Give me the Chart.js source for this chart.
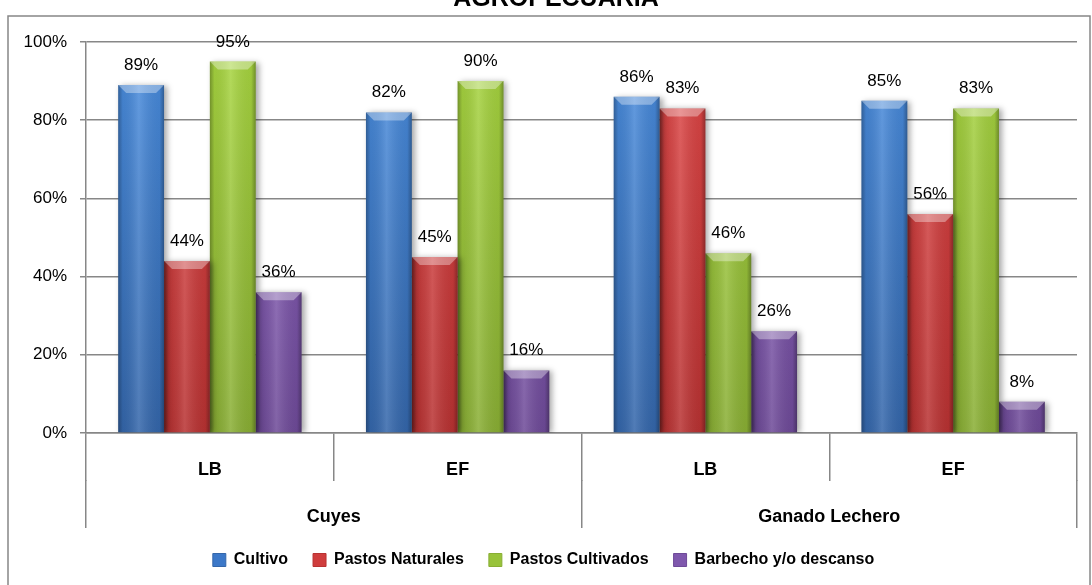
<!DOCTYPE html>
<html>
<head>
<meta charset="utf-8">
<script src="https://cdn.jsdelivr.net/npm/chart.js@4.4.1/dist/chart.umd.min.js"></script>
<style>
  html, body { margin: 0; padding: 0; background: #fff; }
  #grafico { display: block; }
</style>
</head>
<body>
<canvas id="grafico" width="1092" height="585"></canvas>
<script>
// datos
const titulo = "AGROPECUARIA";
const grupos = ["Cuyes", "Ganado Lechero"];
const etapas = ["LB", "EF", "LB", "EF"];
const series = ["Cultivo", "Pastos Naturales", "Pastos Cultivados", "Barbecho y/o descanso"];
const cultivo = [89, 82, 86, 85];
const pastosNaturales = [44, 45, 83, 56];
const pastosCultivados = [95, 90, 46, 83];
const barbecho = [36, 16, 26, 8];
const yMax = 100, yPaso = 20;

// colores: arriba, medio, abajo
const colores = [
  ["#4a8ee0", "#3c78c8", "#3466aa"],
  ["#e04848", "#cf3d3d", "#b83232"],
  ["#a8d640", "#98c33a", "#89ae34"],
  ["#9168c4", "#7f58ad", "#6e4a98"]
];
const gris = "#878787";
const fuente = '"Liberation Sans", Arial, sans-serif';
Chart.defaults.font.family = fuente;
Chart.defaults.color = "#000";

function degradado(c, i) {
  const { ctx, chartArea } = c.chart;
  if (!chartArea) return colores[i][1];
  const g = ctx.createLinearGradient(0, chartArea.top, 0, chartArea.bottom);
  g.addColorStop(0, colores[i][0]);
  g.addColorStop(1, colores[i][2]);
  return g;
}

// marco, título cortado y fondo
const marco = {
  id: "marco",
  beforeDraw(chart) {
    const ctx = chart.ctx;
    ctx.save();
    ctx.fillStyle = "#fff";
    ctx.fillRect(0, 0, chart.width, chart.height);
    ctx.strokeStyle = gris;
    ctx.lineWidth = 1.5;
    ctx.strokeRect(8, 16, 1082, 620);
    ctx.fillStyle = "#000";
    ctx.font = "bold 25px " + fuente;
    ctx.textAlign = "center";
    ctx.textBaseline = "alphabetic";
    ctx.fillText(titulo, 556, 6);
    ctx.restore();
  }
};

// sombra, bisel y etiquetas de las barras
const barras3d = {
  id: "barras3d",
  beforeDatasetsDraw(chart) {
    const ctx = chart.ctx;
    ctx.save();
    ctx.shadowColor = "rgba(0,0,0,0.35)";
    ctx.shadowBlur = 6;
    ctx.shadowOffsetX = 3;
    ctx.shadowOffsetY = 1;
  },
  afterDatasetsDraw(chart) {
    const ctx = chart.ctx;
    ctx.restore();
    ctx.save();
    chart.data.datasets.forEach((ds, i) => {
      chart.getDatasetMeta(i).data.forEach((bar, j) => {
        const l = bar.x - bar.width / 2, r = bar.x + bar.width / 2;
        const t = bar.y, b = bar.base;
        const g = ctx.createLinearGradient(l, 0, r, 0);
        g.addColorStop(0, "rgba(0,0,0,0.30)");
        g.addColorStop(0.1, "rgba(0,0,0,0.06)");
        g.addColorStop(0.45, "rgba(255,255,255,0.14)");
        g.addColorStop(0.9, "rgba(0,0,0,0.06)");
        g.addColorStop(1, "rgba(0,0,0,0.32)");
        ctx.fillStyle = g;
        ctx.fillRect(l, t, r - l, b - t);
        const k = Math.min(8, (b - t) / 2);
        ctx.beginPath();
        ctx.moveTo(l, t); ctx.lineTo(r, t);
        ctx.lineTo(r - k, t + k); ctx.lineTo(l + k, t + k);
        ctx.closePath();
        ctx.fillStyle = "rgba(255,255,255,0.35)";
        ctx.fill();

        ctx.fillStyle = "#000";
        ctx.font = "17px " + fuente;
        ctx.textAlign = "center";
        ctx.textBaseline = "alphabetic";
        ctx.fillText(ds.data[j] + "%", bar.x, bar.y - 15);
      });
    });
    ctx.restore();
  }
};

const datos = [cultivo, pastosNaturales, pastosCultivados, barbecho];

new Chart(document.getElementById("grafico"), {
  type: "bar",
  data: {
    labels: etapas,
    datasets: datos.map((d, i) => ({
      label: series[i],
      data: d,
      backgroundColor: c => degradado(c, i),
      borderWidth: 0,
      categoryPercentage: 0.74,
      barPercentage: 1.0
    }))
  },
  options: {
    responsive: false,
    animation: false,
    devicePixelRatio: 1,
    layout: { padding: { left: 10, right: 15, top: 42, bottom: 7 } },
    plugins: {
      tooltip: { enabled: false },
      legend: {
        position: "bottom",
        labels: {
          boxWidth: 13,
          boxHeight: 13,
          padding: 25,
          font: { size: 16, weight: "bold" },
          color: "#000",
          generateLabels: chart => chart.data.datasets.map((ds, i) => ({
            text: ds.label,
            fillStyle: colores[i][1],
            strokeStyle: colores[i][2],
            lineWidth: 1,
            hidden: false,
            datasetIndex: i
          }))
        }
      }
    },
    scales: {
      y: {
        min: 0,
        max: yMax,
        ticks: {
          stepSize: yPaso,
          callback: v => v + "%",
          font: { size: 17 },
          color: "#000",
          padding: 13
        },
        grid: { color: gris, lineWidth: 1.5, tickLength: 6 },
        border: { color: gris, width: 1.5 },
        afterFit: s => { s.width = 76; }
      },
      x: {
        offset: true,
        grid: { offset: true, drawOnChartArea: false, tickLength: 48, color: gris, lineWidth: 1.5 },
        border: { color: gris, width: 1.5 },
        ticks: { font: { size: 18, weight: "bold" }, color: "#000", padding: -22, maxRotation: 0, autoSkip: false },
        afterFit: s => { s.height = 47; }
      },
      x2: {
        type: "category",
        labels: grupos,
        position: "bottom",
        offset: true,
        grid: { offset: true, drawOnChartArea: false, tickLength: 48, color: gris, lineWidth: 1.5 },
        border: { display: false },
        ticks: { font: { size: 18, weight: "bold" }, color: "#000", padding: -22, maxRotation: 0, autoSkip: false },
        afterFit: s => { s.height = 47; }
      }
    }
  },
  plugins: [marco, barras3d]
});
</script>
</body>
</html>
